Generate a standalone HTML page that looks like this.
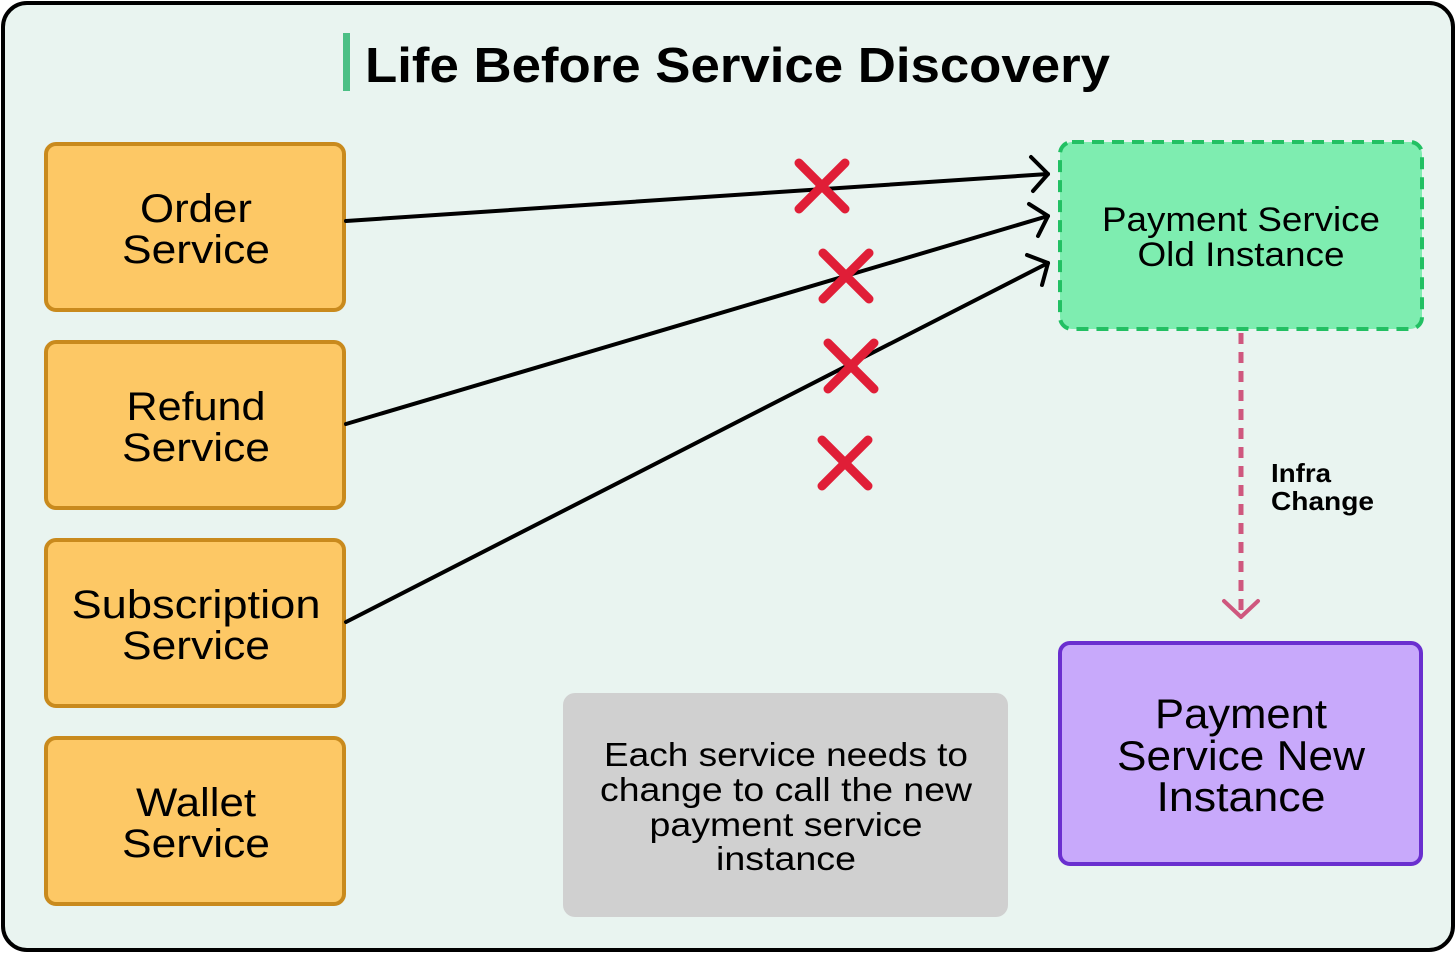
<!DOCTYPE html>
<html><head><meta charset="utf-8"><style>
html,body{margin:0;padding:0;background:#fff;}
svg{display:block;}
text{font-family:"Liberation Sans",sans-serif;fill:#000;}
</style></head><body>
<svg width="1456" height="954" viewBox="0 0 1456 954" xmlns="http://www.w3.org/2000/svg">
<rect x="3" y="3" width="1450" height="947" rx="24" fill="#e9f4f0" stroke="#000" stroke-width="4"/>
<rect x="343" y="33" width="7" height="58" fill="#4cbf85"/>
<text x="365" y="82" font-size="49" font-weight="bold" textLength="745" lengthAdjust="spacingAndGlyphs">Life Before Service Discovery</text>

<g fill="#fdc865" stroke="#c98a1d" stroke-width="4">
<rect x="46" y="144" width="298" height="166" rx="10"/>
<rect x="46" y="342" width="298" height="166" rx="10"/>
<rect x="46" y="540" width="298" height="166" rx="10"/>
<rect x="46" y="738" width="298" height="166" rx="10"/>
</g>
<g font-size="40" text-anchor="middle">
<text x="196" y="222" textLength="112" lengthAdjust="spacingAndGlyphs">Order</text><text x="196" y="263" textLength="148" lengthAdjust="spacingAndGlyphs">Service</text>
<text x="196" y="420" textLength="139" lengthAdjust="spacingAndGlyphs">Refund</text><text x="196" y="461" textLength="148" lengthAdjust="spacingAndGlyphs">Service</text>
<text x="196" y="618" textLength="249" lengthAdjust="spacingAndGlyphs">Subscription</text><text x="196" y="659" textLength="148" lengthAdjust="spacingAndGlyphs">Service</text>
<text x="196" y="816" textLength="120" lengthAdjust="spacingAndGlyphs">Wallet</text><text x="196" y="857" textLength="148" lengthAdjust="spacingAndGlyphs">Service</text>
</g>

<rect x="1060" y="142" width="362" height="187" rx="12" fill="#7eedb0" stroke="#22c063" stroke-width="4" stroke-dasharray="12 8"/>
<g font-size="34" text-anchor="middle">
<text x="1241" y="231" textLength="278" lengthAdjust="spacingAndGlyphs">Payment Service</text>
<text x="1241" y="266" textLength="207" lengthAdjust="spacingAndGlyphs">Old Instance</text>
</g>

<rect x="1060" y="643" width="361" height="221" rx="10" fill="#c8a9fb" stroke="#6a2fcf" stroke-width="4"/>
<g font-size="42" text-anchor="middle">
<text x="1241" y="728" textLength="172" lengthAdjust="spacingAndGlyphs">Payment</text>
<text x="1241" y="770" textLength="248" lengthAdjust="spacingAndGlyphs">Service New</text>
<text x="1241" y="811" textLength="169" lengthAdjust="spacingAndGlyphs">Instance</text>
</g>

<rect x="563" y="693" width="445" height="224" rx="12" fill="#d0d0d0"/>
<g font-size="33" text-anchor="middle">
<text x="786" y="766" textLength="364" lengthAdjust="spacingAndGlyphs">Each service needs to</text>
<text x="786" y="801" textLength="372" lengthAdjust="spacingAndGlyphs">change to call the new</text>
<text x="786" y="836" textLength="273" lengthAdjust="spacingAndGlyphs">payment service</text>
<text x="786" y="870" textLength="140" lengthAdjust="spacingAndGlyphs">instance</text>
</g>

<g stroke="#000" stroke-width="4" fill="none" stroke-linecap="round" stroke-linejoin="round">
<line x1="346" y1="221" x2="1048" y2="174"/>
<polyline points="1031,157 1048,174 1033,191"/>
<line x1="346" y1="424" x2="1048" y2="216"/>
<polyline points="1029,204 1048,216 1038,236"/>
<line x1="346" y1="622" x2="1048" y2="263"/>
<polyline points="1027,255 1048,263 1042,285"/>
</g>

<g stroke="#e01e37" stroke-width="9" stroke-linecap="round">
<line x1="799" y1="163" x2="845" y2="209"/><line x1="845" y1="163" x2="799" y2="209"/>
<line x1="823" y1="253" x2="869" y2="299"/><line x1="869" y1="253" x2="823" y2="299"/>
<line x1="828" y1="343" x2="874" y2="389"/><line x1="874" y1="343" x2="828" y2="389"/>
<line x1="822" y1="440" x2="868" y2="486"/><line x1="868" y1="440" x2="822" y2="486"/>
</g>

<line x1="1241" y1="333" x2="1241" y2="612" stroke="#cf577e" stroke-width="5" stroke-dasharray="11 8"/>
<polyline points="1224,601 1241,617 1258,601" fill="none" stroke="#cf577e" stroke-width="4" stroke-linecap="round" stroke-linejoin="round"/>
<g font-size="26" font-weight="bold">
<text x="1271" y="482" textLength="60" lengthAdjust="spacingAndGlyphs">Infra</text>
<text x="1271" y="510" textLength="103" lengthAdjust="spacingAndGlyphs">Change</text>
</g>
</svg>
</body></html>
